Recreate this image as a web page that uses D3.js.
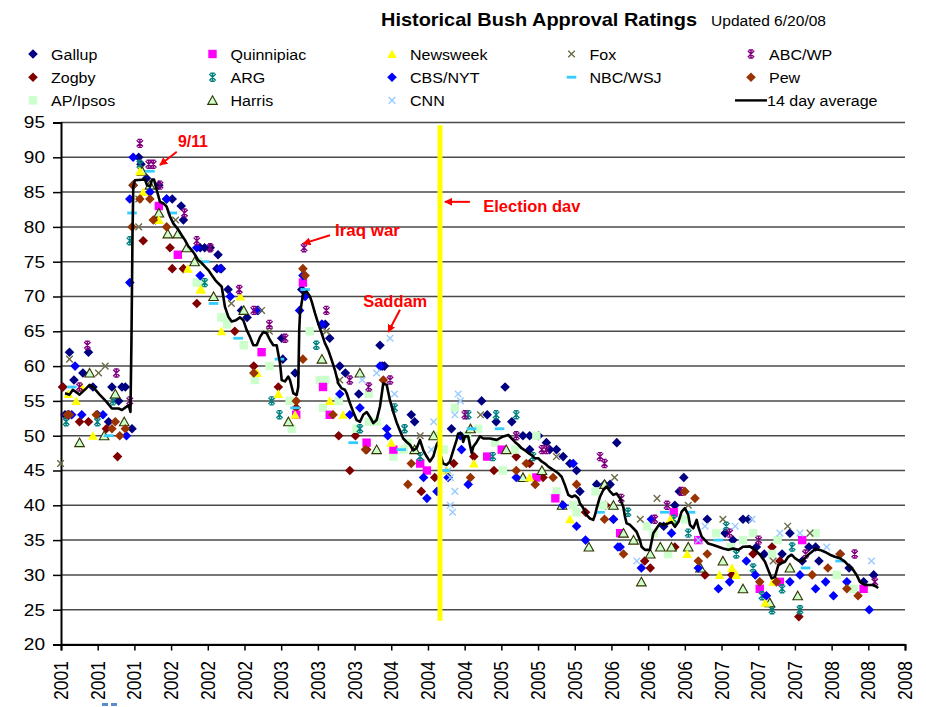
<!DOCTYPE html>
<html><head><meta charset="utf-8">
<script src="https://cdn.jsdelivr.net/npm/d3@7/dist/d3.min.js"></script>
<style>body{margin:0;background:#fff}svg{display:block;font-family:"Liberation Sans",Arial,sans-serif}</style>
</head><body><svg id="c" width="926" height="707"></svg>
<script>
// ---------------- DATA (x = decimal year, y = approval %) ----------------
const gallup = [[2001.12,57],[2001.14,53],[2001.18,62],[2001.22,58],[2001.30,59],[2001.35,62],[2001.39,57],[2001.43,53],[2001.53,52],[2001.56,57],[2001.62,55],[2001.65,57],[2001.68,57],[2001.74,51],
[2001.75,86],[2001.80,90],[2001.82,89],[2001.87,87],[2001.98,86],[2002.05,84],[2002.10,84],[2002.18,83],[2002.20,81],[2002.35,77],[2002.39,77],[2002.44,77],[2002.50,74],[2002.51,76],[2002.54,74],[2002.60,71],[2002.72,68],[2002.77,67],[2002.86,68],
[2003.08,64],[2003.09,61],[2003.20,59],[2003.26,71],[2003.44,66],[2003.47,66],[2003.51,64],[2003.60,60],[2003.65,59],[2003.77,56],[2003.96,63],[2003.98,60],[2004.00,60],
[2004.24,53],[2004.27,52],[2004.60,51],[2004.87,55],[2004.92,53],[2005.00,52],[2005.08,57],[2005.14,52],[2005.24,50],[2005.30,50],[2005.30,48],[2005.38,50],[2005.45,49],[2005.48,48],[2005.54,48],[2005.60,47],[2005.66,46],[2005.72,45],
[2005.75,42],[2005.90,43],[2005.97,43],[2006.02,43],[2006.08,49],[2006.50,37],[2006.60,40],[2006.64,42],[2006.68,44],[2006.89,38],[2007.05,36],[2007.12,35],[2007.21,38],[2007.26,38],
[2007.33,34],[2007.40,33],[2007.56,33],[2007.63,36],[2007.74,32],[2007.80,34],[2007.86,34],[2007.89,32],[2008.08,33],[2008.16,31],[2008.29,29],[2008.38,30]];

const zogby = [[2001.12,57],[2001.27,52],[2001.35,52],[2001.51,51],[2001.61,47],
[2001.84,78],[2001.95,81],[2002.08,77],[2002.10,74],[2002.20,74],[2002.32,69],
[2002.66,65],[2002.83,60],[2003.05,57],[2003.21,54],[2003.59,50],[2003.69,45],[2003.74,50],[2003.84,48],
[2004.33,42],[2004.45,44],[2004.62,46],[2004.80,47],[2004.98,45],[2005.18,47],[2005.30,46],[2005.42,44],
[2005.80,39],[2005.98,40],[2006.05,38],[2006.33,32],[2006.38,31],[2006.60,34],[2006.87,30],[2007.11,30],
[2007.30,33],[2007.47,34],[2007.54,32],[2007.71,24]];

const apIpsos = [[2002.32,72],[2002.33,75],[2002.35,72],[2002.38,72],[2002.54,67],[2002.57,67],[2002.59,66],[2002.74,63],[2002.84,58],[2002.97,60],[2003.15,55],[2003.17,51],[2003.33,65],[2003.42,58],[2003.45,54],[2003.47,58],[2003.59,55],[2003.75,51],[2003.86,56],[2003.86,52],[2003.93,52],[2004.08,47],
[2004.17,48],[2004.21,49],[2004.45,50],[2004.53,48],[2004.63,54],[2004.74,50],[2004.84,51],[2004.99,49],[2005.06,45],[2005.17,48],[2005.36,50],[2005.54,42],
[2005.69,40],[2005.72,39],[2005.89,42],[2005.96,40],[2006.35,37],[2006.41,36],[2006.54,33],[2006.69,38],[2006.97,36],[2007.10,34],
[2007.21,35],[2007.30,36],[2007.47,33],[2007.52,35],[2007.86,36],[2008.05,30],[2008.20,28]];

const quinnipiac = [[2001.98,83],[2002.15,76],[2002.90,62],[2003.21,53],[2003.27,72],[2003.45,57],[2003.51,53],[2003.84,49],[2004.08,48],[2004.32,46],[2004.38,45],[2004.92,47],[2005.05,48],[2005.36,44],[2005.53,41],[2006.11,36],[2006.59,39],[2006.81,35],[2007.36,28],[2007.54,29],[2007.74,35],[2008.29,28]];

const arg = [[2001.15,52],[2001.43,52],[2001.57,55],
[2001.72,78],[2001.81,89],[2002.39,72],[2002.99,55],[2003.06,53],[2003.39,63],[2003.78,51],[2004.09,54],[2004.18,51],[2004.32,47],[2004.75,53],[2004.97,47],[2005.00,53],[2005.18,53],[2005.33,47],
[2006.18,39],[2006.59,38],[2006.72,36],[2007.06,37],[2007.15,33],[2007.30,31],[2007.38,27],[2007.47,25],[2007.56,28],[2007.65,34],[2007.72,25]];

const harris = [[2001.27,49],[2001.36,59],[2001.49,50],[2001.59,56],[2001.67,52],
[2001.83,88],[2001.90,86],[2001.98,82],[2002.06,79],[2002.15,79],[2002.23,77],[2002.30,75],[2002.47,70],[2002.74,68],
[2003.14,52],[2003.44,61],[2003.78,59],[2003.93,48],
[2004.27,48],[2004.44,50],[2004.77,51],[2005.09,48],[2005.24,44],[2005.41,45],[2005.59,40],
[2005.83,34],[2005.97,43],[2006.05,40],[2006.14,36],[2006.23,35],[2006.30,29],[2006.38,33],[2006.47,34],[2006.57,34],[2006.72,34],[2006.83,31],[2007.03,32],
[2007.21,28],[2007.45,26],[2007.63,31],[2007.70,27]];

const newsweek = [[2001.17,56],[2001.24,55],[2001.29,57],[2001.39,50],
[2001.81,88],[2001.84,85],[2001.98,81],[2002.24,74],[2002.35,71],[2002.36,71],[2002.54,65],[2002.71,70],[2002.86,59],[2003.05,56],[2003.20,53],[2003.51,55],[2003.63,53],[2004.06,49],
[2004.56,45],[2004.80,46],[2005.30,44],[2005.66,38],[2006.56,38],[2006.71,33],[2007.00,30],[2007.11,31],[2007.15,30],[2007.41,26],[2007.48,29]];

const cbsNyt = [[2001.17,53],[2001.20,53],[2001.23,60],[2001.29,53],[2001.48,53],[2001.69,50],
[2001.72,72],[2001.72,84],[2001.75,90],[2001.90,85],[2002.05,84],[2002.32,77],[2002.35,73],[2002.53,74],[2002.62,70],[2002.87,68],
[2003.24,68],[2003.27,73],[2003.29,70],[2003.44,66],[2003.60,56],[2003.69,53],[2003.78,54],[2003.96,60],[2004.02,51],[2004.03,50],
[2004.35,44],[2004.38,41],[2004.47,42],[2004.57,44],[2004.68,50],[2004.69,48],[2004.75,43],[2005.18,44],[2005.60,40],[2005.69,46],
[2005.72,37],[2005.80,35],[2006.05,38],[2006.09,34],[2006.11,34],[2006.30,31],[2006.39,38],[2006.57,36],[2006.81,31],[2006.99,28],[2007.09,29],
[2007.24,32],[2007.32,30],[2007.42,27],[2007.63,29],[2007.72,30],[2007.86,28],[2007.95,29],[2008.02,27],[2008.14,29],[2008.34,25]];

const cnn = [[2003.80,58],[2003.93,59],[2004.05,64],[2004.09,56],[2004.42,48],[2004.44,52],[2004.57,45],[2004.59,44],[2004.61,39],[2004.59,40],[2004.63,42],[2004.63,53],[2004.66,56],[2004.68,55],
[2006.26,32],[2006.81,35],[2006.87,37],[2007.14,37],[2007.29,38],[2007.54,36],[2007.72,36],[2007.96,34],[2008.36,32]];

const fox = [[2001.10,46],[2001.18,61],[2001.44,59],[2001.50,60],[2001.80,84],[2001.80,80],[2002.13,81],[2002.63,69],[2002.90,68],[2002.97,65],[2003.48,65],[2003.60,58],[2004.32,50],[2004.86,53],[2005.54,47],[2006.06,44],[2006.29,38],[2006.44,41],[2006.72,40],[2007.03,38],[2007.48,32],[2007.61,37],[2007.81,36]];

const nbcWsj = [[2001.20,57],[2001.53,50],[2001.74,82],[2001.90,88],[2002.10,82],[2002.39,75],[2002.47,69],[2002.69,64],[2003.06,61],[2003.20,54],[2003.29,71],[2003.72,49],[2004.15,48],[2004.54,45],[2004.78,51],[2005.03,51],[2005.93,39],[2006.51,39],[2006.74,39],[2006.99,35],[2007.77,31],[2008.08,32]];

const abcWp = [[2001.27,57],[2001.34,63],[2001.60,59],[2001.72,55],
[2001.81,92],[2001.89,89],[2001.93,89],[2001.99,86],[2002.21,82],[2002.32,78],[2002.44,77],[2002.70,71],[2002.83,68],[2002.97,66],[2003.11,64],
[2003.28,77],[2003.48,68],[2003.69,58],[2003.86,57],[2004.05,58],[2004.72,53],[2005.18,50],[2005.41,48],[2005.45,48],
[2005.93,47],[2005.97,46],[2006.12,41],[2006.42,38],[2006.53,40],[2006.66,42],[2007.09,36],[2007.35,35],[2007.77,33],[2008.21,33],[2008.39,29]];

const pew = [[2001.16,53],[2001.18,53],[2001.42,53],[2001.56,51],[2001.59,52],[2001.63,50],[2001.68,51],
[2001.74,80],[2001.75,86],[2001.81,84],[2001.90,84],[2001.93,81],[2002.05,80],
[2002.83,59],[2003.21,55],[2003.27,61],[2003.27,74],[2003.29,73],[2003.54,53],[2003.83,48],[2003.99,58],
[2004.21,43],[2004.24,46],[2004.77,44],[2005.18,45],[2005.27,46],[2005.35,43],[2005.51,44],[2005.72,43],
[2005.97,38],[2006.14,33],[2006.69,42],[2006.78,41],[2006.81,32],[2006.89,33],
[2007.36,29],[2007.51,29],[2007.83,30],[2007.97,31],[2008.08,33],[2008.14,28],[2008.24,27]];

const avg14 = [[2001.14,56.1],[2001.18,55.9],[2001.21,56.6],[2001.27,55.9],[2001.33,56.8],[2001.36,57.3],[2001.39,57.0],[2001.45,55.9],[2001.51,54.9],[2001.56,53.9],[2001.62,53.9],[2001.65,53.7],[2001.71,54.4],[2001.726,53.4],[2001.735,64],[2001.744,78.6],[2001.751,85.8],
[2001.766,86.7],[2001.856,86.8],[2001.874,86.0],[2001.901,85.8],[2001.919,86.8],[2001.937,86.8],[2001.961,85.3],[2001.990,83.6],[2002.020,83.4],[2002.050,82.9],[2002.080,81.5],[2002.109,80.5],[2002.154,79.6],[2002.185,78.8],[2002.214,78.1],[2002.244,77.2],[2002.274,76.7],[2002.304,76.0],[2002.333,75.2],[2002.364,74.8],[2002.393,74.3],[2002.423,73.8],[2002.453,73.1],[2002.483,72.4],[2002.512,71.9],[2002.543,71.4],[2002.557,70.0],[2002.572,68.5],[2002.602,67.1],[2002.632,66.4],[2002.671,66.6],[2002.707,67.0],[2002.736,66.6],[2002.766,65.2],[2002.796,64.2],[2002.826,63.0],[2002.856,63.0],[2002.886,64.2],[2002.915,64.9],[2002.946,64.7],[2002.975,63.75],[2003.005,63.0],[2003.035,63.0],[2003.065,60.4],[2003.080,58.0],[2003.109,57.8],[2003.139,58.5],[2003.154,58.0],[2003.184,56.1],[2003.214,55.85],[2003.228,57.0],[2003.237,65.2],[2003.244,67.6],[2003.273,70.5],[2003.304,70.7],[2003.333,70.0],[2003.348,69.3],[2003.378,67.6],[2003.407,66.1],[2003.438,64.7],[2003.467,63.3],[2003.497,62.3],[2003.527,60.9],[2003.557,59.4],[2003.587,57.5],[2003.617,56.8],[2003.646,56.6],[2003.662,56.1],[2003.691,54.65],[2003.721,53.4],[2003.751,52.25],[2003.781,52.0],[2003.810,53.0],[2003.841,53.4],[2003.870,52.7],[2003.900,51.8],[2003.930,52.25],[2003.960,54.2],[2003.989,57.5],[2004.020,57.3],[2004.049,55.1],[2004.079,53.4],[2004.109,51.9],[2004.139,50.7],[2004.168,49.6],[2004.199,49.1],[2004.228,48.7],[2004.258,47.9],[2004.288,48.2],[2004.318,49.4],[2004.348,47.9],[2004.378,47.0],[2004.407,46.3],[2004.437,47.0],[2004.467,48.7],[2004.482,49.1],[2004.497,47.5],[2004.526,46.0],[2004.557,45.8],[2004.586,46.3],[2004.616,47.9],[2004.646,49.4],[2004.660,50.3],[2004.691,50.3],[2004.705,49.1],[2004.721,49.9],[2004.750,49.9],[2004.765,48.7],[2004.781,47.5],[2004.795,48.4],[2004.826,49.1],[2004.855,49.9],[2004.885,49.6],[2004.945,49.6],[2005.005,49.4],[2005.064,49.9],[2005.109,50.1],[2005.139,49.6],[2005.168,49.1],[2005.198,48.7],[2005.228,48.2],[2005.258,47.9],[2005.288,47.5],[2005.318,47.2],[2005.347,46.75],[2005.377,46.75],[2005.407,46.3],[2005.437,46.0],[2005.467,45.55],[2005.511,45.1],[2005.556,44.6],[2005.586,44.1],[2005.616,42.9],[2005.646,41.5],[2005.676,41.2],[2005.706,41.4],[2005.735,41.0],[2005.750,40.3],[2005.780,39.6],[2005.810,38.6],[2005.840,38.1],[2005.869,37.9],[2005.885,38.6],[2005.900,39.6],[2005.929,41.2],[2005.959,42.2],[2005.989,42.7],[2006.019,42.0],[2006.049,41.5],[2006.079,41.7],[2006.108,41.0],[2006.138,39.8],[2006.153,38.4],[2006.168,37.4],[2006.198,37.2],[2006.228,36.7],[2006.257,36.2],[2006.287,35.0],[2006.302,34.05],[2006.332,33.6],[2006.377,33.6],[2006.407,36.0],[2006.437,36.7],[2006.466,37.4],[2006.496,37.2],[2006.541,37.4],[2006.571,37.6],[2006.601,36.9],[2006.631,37.6],[2006.661,39.1],[2006.690,39.6],[2006.720,38.6],[2006.735,37.2],[2006.765,36.7],[2006.795,37.9],[2006.810,36.9],[2006.840,35.5],[2006.870,35.0],[2006.899,34.5],[2006.944,34.3],[2006.989,34.05],[2007.033,33.8],[2007.078,33.6],[2007.123,33.8],[2007.168,33.6],[2007.212,34.05],[2007.272,34.1],[2007.317,33.6],[2007.362,32.9],[2007.407,31.9],[2007.436,30.7],[2007.466,29.5],[2007.496,29.7],[2007.526,31.4],[2007.556,31.7],[2007.586,31.9],[2007.615,32.6],[2007.645,32.9],[2007.675,32.4],[2007.705,32.1],[2007.735,31.9],[2007.765,32.4],[2007.794,32.9],[2007.825,33.3],[2007.854,33.7],[2007.899,33.6],[2007.944,33.3],[2007.988,32.9],[2008.033,32.6],[2008.078,32.4],[2008.122,31.9],[2008.152,31.4],[2008.197,30.7],[2008.227,30.0],[2008.257,29.0],[2008.301,28.55],[2008.376,28.55],[2008.406,28.3],[2008.420,28.1]];

const yTicks = [20,25,30,35,40,45,50,55,60,65,70,75,80,85,90,95];
const xTickLabels = ["2001","2001","2001","2002","2002","2002","2003","2003","2003","2004","2004","2004","2005","2005","2005","2006","2006","2006","2007","2007","2007","2008","2008","2008"];
const xStart = 2001.104;            // first axis tick (early Feb 2001)
const xStepYears = 120 / 365.25;    // Excel major unit: 120 days

const annotations = [
  {text:"9/11",        at:[2002.151,91.5], from:[2002.140,90.8], to:[2001.990,88.9], w:30},
  {text:"Iraq war",    at:[2003.557,78.7], from:[2003.512,78.8], to:[2003.273,77.6], w:65},
  {text:"Saddam",      at:[2003.810,68.5], from:[2004.139,68.1], to:[2004.034,64.9], w:64},
  {text:"Election dav",at:[2004.885,82.2], from:[2004.765,83.6], to:[2004.541,83.6], w:97}
];
const electionLine = {x:2004.497, y0:23.4, y1:94.6};

// ---------------- SERIES STYLE ----------------
const series = [
  {name:"Gallup",    data:gallup,    shape:"diamond",  fill:"#000080"},
  {name:"Zogby",     data:zogby,     shape:"diamond",  fill:"#800000"},
  {name:"AP/Ipsos",  data:apIpsos,   shape:"square",   fill:"#CCFFCC"},
  {name:"Quinnipiac",data:quinnipiac,shape:"square",   fill:"#FF00FF"},
  {name:"ARG",       data:arg,       shape:"star",     stroke:"#008080"},
  {name:"Harris",    data:harris,    shape:"triangle", fill:"#CCFFCC", stroke:"#333300"},
  {name:"Newsweek",  data:newsweek,  shape:"triangle", fill:"#FFFF00"},
  {name:"CBS/NYT",   data:cbsNyt,    shape:"diamond",  fill:"#0000FF"},
  {name:"CNN",       data:cnn,       shape:"x",        stroke:"#99CCFF"},
  {name:"Fox",       data:fox,       shape:"x",        stroke:"#6B6B47"},
  {name:"NBC/WSJ",   data:nbcWsj,    shape:"dash",     fill:"#33CCFF"},
  null,
  {name:"ABC/WP",    data:abcWp,     shape:"star",     stroke:"#800080"},
  {name:"Pew",       data:pew,       shape:"diamond",  fill:"#993300"},
  {name:"14 day average", data:avg14, shape:"line"}
];

// ---------------- DRAW ----------------
const svg = d3.select("#c");
const X0 = 61, X1 = 905, Y0 = 644.5, Y1 = 122.5;
const x = d3.scaleLinear().domain([xStart, xStart + (xTickLabels.length-1)*xStepYears]).range([X0, X1]);
const y = d3.scaleLinear().domain([20,95]).range([Y0, Y1]);

function markerPath(shape){
  switch(shape){
    case "diamond": return "M0,-4.8L4.8,0L0,4.8L-4.8,0Z";
    case "square": return "M-4.2,-4.2H4.2V4.2H-4.2Z";
    case "triangle": return "M0,-4.6L4.8,4L-4.8,4Z";
    case "x": return "M-3.3,-3.3L3.3,3.3M-3.3,3.3L3.3,-3.3";
    case "star": return "M-3.2,-3.2L3.2,3.2M-3.2,3.2L3.2,-3.2M0,-4V4M-2.2,-4H2.2M-2.2,4H2.2";
    case "dash": return "M-4.8,-1.4H4.8V1.4H-4.8Z";
  }
}
function styleMarker(sel, s){
  if (s.shape === "x" || s.shape === "star") {
    sel.attr("fill","none").attr("stroke", s.stroke).attr("stroke-width",1.4);
  } else {
    sel.attr("fill", s.fill).attr("stroke", s.stroke || "none").attr("stroke-width", s.stroke ? 1.1 : 0);
  }
}

// gridlines
svg.append("g").selectAll("line").data(yTicks).join("line")
  .attr("x1", X0).attr("x2", X1).attr("y1", d=>y(d)).attr("y2", d=>y(d))
  .attr("stroke","#4a4a4a").attr("stroke-width",1.5);

// axes
const tickVals = xTickLabels.map((_,i)=> xStart + i*xStepYears);
const gy = svg.append("g").attr("transform",`translate(${X0},0)`)
  .call(d3.axisLeft(y).tickValues(yTicks).tickSize(8).tickFormat(""));
const gx = svg.append("g").attr("transform",`translate(0,${Y0})`)
  .call(d3.axisBottom(x).tickValues(tickVals).tickSize(6).tickFormat(""));
[gy,gx].forEach(g=>{ g.selectAll("path.domain").attr("stroke","#000").attr("stroke-width",2);
  g.selectAll(".tick line").attr("stroke","#000").attr("stroke-width",1.5); });

// y tick labels
yTicks.forEach(v=>{
  svg.append("g").attr("transform",`translate(45,${y(v)}) scale(1.12,1)`)
    .append("text").attr("text-anchor","end").attr("dy","0.35em")
    .attr("font-size",17).attr("fill","#000").text(v);
});
// x tick labels
tickVals.forEach((v,i)=>{
  svg.append("g").attr("transform",`translate(${x(v)},661) scale(1.12,1) rotate(-90)`)
    .append("text").attr("text-anchor","end").attr("dy","0.36em")
    .attr("font-size",17.5).attr("fill","#000").text(xTickLabels[i]);
});

// scatter points
const plot = svg.append("g");
series.forEach(s=>{
  if(!s || s.shape==="line") return;
  const sel = plot.append("g").selectAll("path").data(s.data).join("path")
    .attr("d", markerPath(s.shape))
    .attr("transform", d=>`translate(${x(d[0])},${y(d[1])})`);
  styleMarker(sel, s);
});

// 14 day average
const avgSeries = series[series.length-1];
plot.append("path").datum(avgSeries.data)
  .attr("d", d3.line().x(d=>x(d[0])).y(d=>y(d[1])))
  .attr("fill","none").attr("stroke","#000").attr("stroke-width",2.6).attr("stroke-linejoin","round");

// election day line
svg.append("line").attr("x1",x(electionLine.x)).attr("x2",x(electionLine.x))
  .attr("y1",y(electionLine.y1)).attr("y2",y(electionLine.y0))
  .attr("stroke","#FFFF00").attr("stroke-width",5);

// annotations
svg.append("defs").append("marker").attr("id","ah").attr("viewBox","0 0 10 10")
  .attr("refX",9).attr("refY",5).attr("markerWidth",4).attr("markerHeight",4).attr("orient","auto")
  .append("path").attr("d","M0,0L10,5L0,10Z").attr("fill","#FF0000");
annotations.forEach(a=>{
  svg.append("line").attr("x1",x(a.from[0])).attr("y1",y(a.from[1]))
    .attr("x2",x(a.to[0])).attr("y2",y(a.to[1]))
    .attr("stroke","#FF0000").attr("stroke-width",2).attr("marker-end","url(#ah)");
  svg.append("text").attr("x",x(a.at[0])).attr("y",y(a.at[1]))
    .attr("font-size",17).attr("font-weight","bold").attr("fill","#FF0000")
    .attr("textLength",a.w).attr("lengthAdjust","spacingAndGlyphs").text(a.text);
});

// title
svg.append("text").attr("x",381).attr("y",26).attr("font-size",19).attr("font-weight","bold")
  .attr("textLength",316).attr("lengthAdjust","spacingAndGlyphs").text("Historical Bush Approval Ratings");
svg.append("text").attr("x",711).attr("y",26).attr("font-size",15.5)
  .attr("textLength",115).attr("lengthAdjust","spacingAndGlyphs").text("Updated 6/20/08");

// legend (3 rows, column-major)
series.forEach((s,i)=>{
  if(!s) return;
  const col = Math.floor(i/3), row = i%3;
  const mx = 33 + col*179.5, my = 54 + row*23.2;
  const g = svg.append("g");
  if (s.shape === "line") {
    g.append("line").attr("x1",mx-16).attr("x2",mx+16).attr("y1",my).attr("y2",my)
      .attr("stroke","#000").attr("stroke-width",2.4);
  } else {
    styleMarker(g.append("path").attr("d",markerPath(s.shape)).attr("transform",`translate(${mx},${my})`), s);
  }
  g.append("g").attr("transform",`translate(${s.shape==="line"? mx+16 : mx+18},${my+5.5}) scale(1.07,1)`)
    .append("text").attr("font-size",15).attr("fill","#000").text(s.name);
});

// small stray mark under the axis (as in the source image)
svg.append("g").selectAll("rect").data([0,1]).join("rect")
  .attr("x",d=>102+d*9).attr("y",703).attr("width",6).attr("height",3).attr("fill","#5B8BD0");
</script></body></html>
